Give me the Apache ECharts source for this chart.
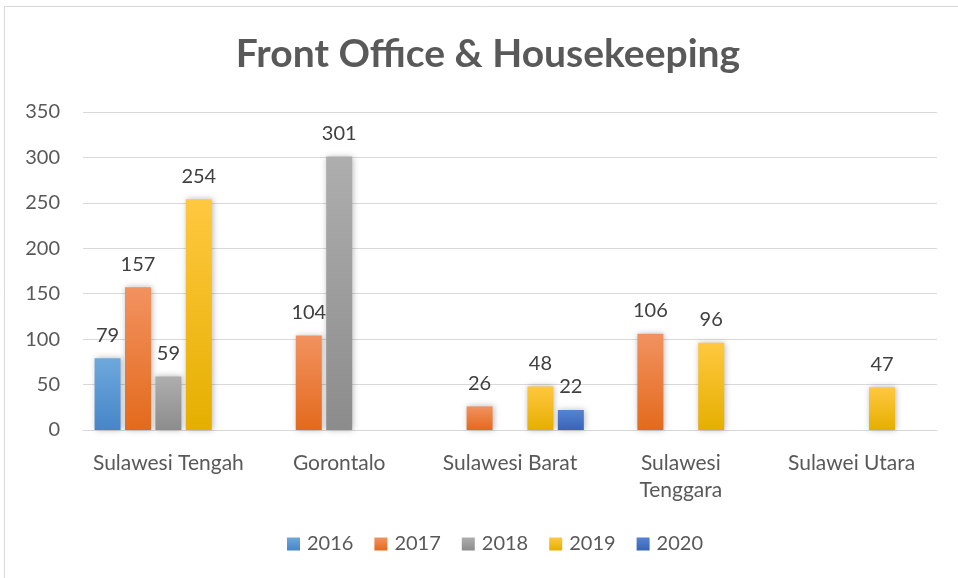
<!DOCTYPE html>
<html><head><meta charset="utf-8">
<script src="https://cdn.jsdelivr.net/npm/echarts@6/dist/echarts.min.js"></script>
<style>html,body{margin:0;padding:0;background:#fff}#c{width:958px;height:578px}</style>
</head><body><div id="c"></div>
<script>
const categories = ['Sulawesi Tengah', 'Gorontalo', 'Sulawesi Barat', 'Sulawesi\nTenggara', 'Sulawei Utara'];
const years = ['2016', '2017', '2018', '2019', '2020'];
const v2016 = [79, null, null, null, null];
const v2017 = [157, 104, 26, 106, null];
const v2018 = [59, 301, null, null, null];
const v2019 = [254, null, 48, 96, 47];
const v2020 = [null, null, 22, null, null];
const yTicks = [0, 50, 100, 150, 200, 250, 300, 350];

const seriesData = [v2016, v2017, v2018, v2019, v2020];
const grads = [
  ['#6EA8DC', '#4686C8'],
  ['#F29260', '#E36A1C'],
  ['#AEAEAE', '#8C8C8C'],
  ['#FFC840', '#E5AF00'],
  ['#5583D2', '#3964B6']
];
const font = 'Lato, "Open Sans", sans-serif';
const chart = echarts.init(document.getElementById('c'));
chart.setOption({
  backgroundColor: '#fff',
  animation: false,
  title: {
    text: 'Front Office & Housekeeping',
    left: 483, top: 30, textAlign: 'center',
    textStyle: { fontFamily: font, fontSize: 39, fontWeight: 'bold', color: '#595959' }
  },
  legend: {
    data: years, bottom: 19, left: 282, itemWidth: 13, itemHeight: 13, itemGap: 21,
    icon: 'rect',
    textStyle: { fontFamily: font, fontSize: 20, color: '#595959', padding: [0, 0, 0, 2] }
  },
  grid: { left: 83, right: 21, top: 112, bottom: 148, containLabel: false },
  xAxis: {
    type: 'category', data: categories,
    axisLine: { lineStyle: { color: '#d9d9d9', width: 1 } },
    axisTick: { show: false },
    axisLabel: { fontFamily: font, fontSize: 21, color: '#595959', margin: 20, lineHeight: 27, interval: 0 }
  },
  yAxis: {
    type: 'value', min: yTicks[0], max: yTicks[yTicks.length - 1], interval: 50,
    axisLine: { show: false }, axisTick: { show: false },
    splitLine: { lineStyle: { color: '#d9d9d9', width: 1 } },
    axisLabel: { fontFamily: font, fontSize: 20, color: '#595959', margin: 23 }
  },
  graphic: [{
    type: 'rect', shape: { x: 4.5, y: 6.5, width: 1000, height: 1000 },
    style: { fill: 'none', stroke: '#d9d9d9', lineWidth: 1 }, silent: true, z: -1
  }],
  series: years.map((y, i) => ({
    name: y, type: 'bar', data: seriesData[i], barWidth: 26, barGap: '17%',
    itemStyle: {
      color: new echarts.graphic.LinearGradient(0, 0, 0, 1, [
        { offset: 0, color: grads[i][0] }, { offset: 1, color: grads[i][1] }
      ]),
      shadowColor: 'rgba(0,0,0,0.28)', shadowBlur: 6, shadowOffsetX: 1, shadowOffsetY: 0
    },
    label: {
      show: true, position: 'top', distance: 13,
      fontFamily: font, fontSize: 20, color: '#404040'
    }
  }))
});
</script></body></html>
